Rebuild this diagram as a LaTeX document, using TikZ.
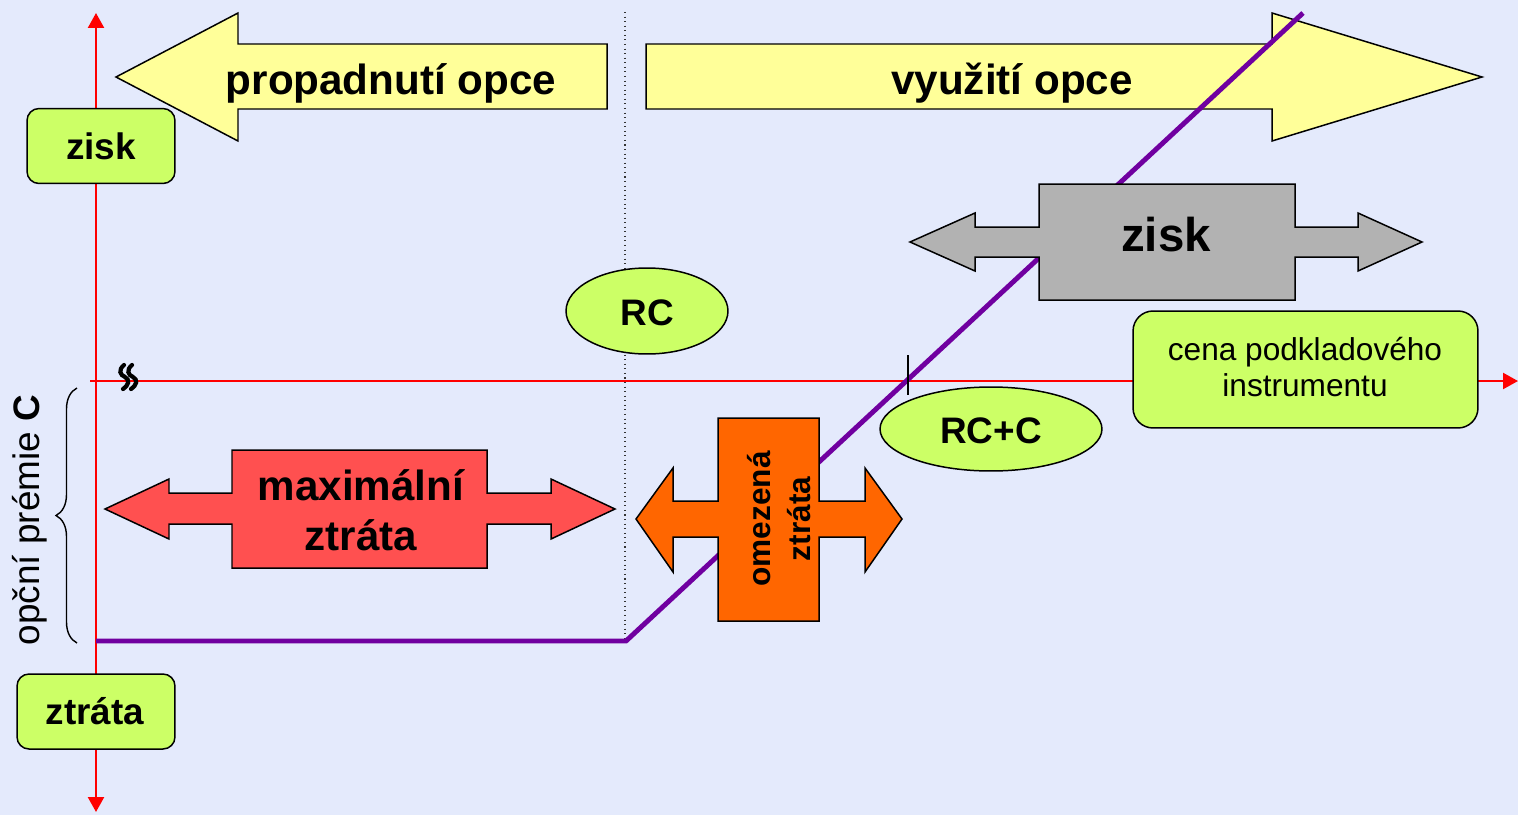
\documentclass[tikz,border=0pt]{standalone}
\usepackage{fontspec}
\setmainfont{Liberation Sans}
\usetikzlibrary{arrows.meta,shapes.geometric,decorations.pathreplacing}
\definecolor{bgblue}{RGB}{228,234,252}
\definecolor{pyellow}{RGB}{255,255,153}
\definecolor{pgreen}{RGB}{204,255,102}
\definecolor{pgray}{RGB}{178,178,178}
\definecolor{pred}{RGB}{255,80,80}
\definecolor{porange}{RGB}{255,102,0}
\definecolor{ppurple}{RGB}{112,0,160}
\definecolor{axisred}{RGB}{255,0,0}
\tikzset{
  shapeline/.style={draw=black, line width=0.85pt, line join=miter},
  greenbox/.style={draw=black, line width=0.85pt, fill=pgreen, rounded corners=0.24cm, inner sep=0pt},
  greenoval/.style={ellipse, draw=black, line width=0.85pt, fill=pgreen, inner sep=0pt},
  axis/.style={draw=axisred, line width=1.3pt},
  axistip/.style={-{Triangle[length=0.3cm,width=0.32cm]}},
  breakstroke/.style={line width=2.4pt, line cap=round},
  bigbold/.style={font=\fontsize{24}{28.5}\selectfont\bfseries, align=center},
  midbold/.style={font=\fontsize{21}{25}\selectfont\bfseries, align=center},
}
\begin{document}
\begin{tikzpicture}[x=0.02cm, y=-0.02cm]
\useasboundingbox (0,0) rectangle (1518,815);
\fill[bgblue] (0,0) rectangle (1518,815);

% strike price guide
\draw[dotted, line width=0.6pt, black!80] (625,12) -- (625,640);

% axes
\draw[axis, {Triangle[length=0.3cm,width=0.32cm]}-{Triangle[length=0.3cm,width=0.32cm]}] (96,812) -- (96,13);
\draw[axis, axistip] (90,381) -- (1518,381);

% axis break mark
\draw[breakstroke] (124,365) .. controls (118,370) and (120,375) .. (125,377) .. controls (130,380) and (129,385) .. (123,389);
\draw[breakstroke] (132,365) .. controls (126,370) and (128,375) .. (133,377) .. controls (138,380) and (137,385) .. (131,389);

% yellow direction arrows
\draw[shapeline, fill=pyellow] (116,77) -- (238,13) -- (238,44) -- (607,44) -- (607,109) -- (238,109) -- (238,141) -- cycle;
\node[bigbold] (lapse) at (391,83) {propadnutí opce};
\draw[shapeline, fill=pyellow] (646,44) -- (1272,44) -- (1272,13) -- (1482,77) -- (1272,141) -- (1272,109) -- (646,109) -- cycle;
\node[bigbold] (exercise) at (1012,83) {využití opce};

% payoff line
\draw[ppurple, line width=2.8pt] (96,641) -- (626,641) -- (1303,13);

% tick at break-even
\draw[line width=0.9pt] (908,355) -- (908,395);

% gray double arrow: profit
\draw[shapeline, fill=pgray] (910,242) -- (975,213) -- (975,227) -- (1039,227) -- (1039,184) -- (1295,184) -- (1295,227) -- (1358,227) -- (1358,213) -- (1422,242) -- (1358,271) -- (1358,257) -- (1295,257) -- (1295,300) -- (1039,300) -- (1039,257) -- (975,257) -- (975,271) -- cycle;
\node[font=\fontsize{27}{31}\selectfont\bfseries] (profit) at (1166,235) {zisk};

% red double arrow: maximum loss
\draw[shapeline, fill=pred] (105,509) -- (169,479) -- (169,493) -- (232,493) -- (232,450) -- (487,450) -- (487,493) -- (551,493) -- (551,479) -- (615,509) -- (551,539) -- (551,524) -- (487,524) -- (487,568) -- (232,568) -- (232,524) -- (169,524) -- (169,539) -- cycle;
\node[bigbold] (maxloss) at (361,510) {maximální\\ztráta};

% orange double arrow: limited loss
\draw[shapeline, fill=porange] (636,519) -- (673,468) -- (673,501) -- (718,501) -- (718,418) -- (819,418) -- (819,501) -- (865,501) -- (865,468) -- (902,519) -- (865,572) -- (865,537) -- (819,537) -- (819,621) -- (718,621) -- (718,537) -- (673,537) -- (673,572) -- cycle;
\node[font=\fontsize{18}{22.5}\selectfont\bfseries, align=center, rotate=90] (limloss) at (779,519) {omezená\\ztráta};

% labels
\node[greenbox, minimum width=2.96cm, minimum height=1.5cm] (ziskbox) at (101,146) {};
\node[midbold] (zisktxt) at (ziskbox.center) {zisk};
\node[greenbox, minimum width=3.16cm, minimum height=1.5cm] (ztratabox) at (96,711.5) {};
\node[midbold] (ztratatxt) at (95,711) {ztráta};
\node[greenoval, minimum width=3.24cm, minimum height=1.72cm] (rc) at (647,311) {};
\node[midbold] (rctxt) at (647,313) {RC};
\node[greenoval, minimum width=4.44cm, minimum height=1.68cm] (rcc) at (991,429) {};
\node[midbold] (rcctxt) at (991,431) {RC+C};
\node[greenbox, minimum width=6.9cm, minimum height=2.34cm, rounded corners=0.4cm] (pricebox) at (1305.5,369.5) {};
\node[font=\fontsize{18}{21}\selectfont, align=center] (pricetxt) at (1305,367) {cena podkladového\\instrumentu};

% premium brace
\draw[line width=0.8pt, decorate, decoration={brace, amplitude=0.42cm}] (77,643) -- (77,388);
\node[font=\fontsize{21}{25}\selectfont, rotate=90] (premium) at (30,520) {opční prémie \textbf{C}};
\end{tikzpicture}
\end{document}
